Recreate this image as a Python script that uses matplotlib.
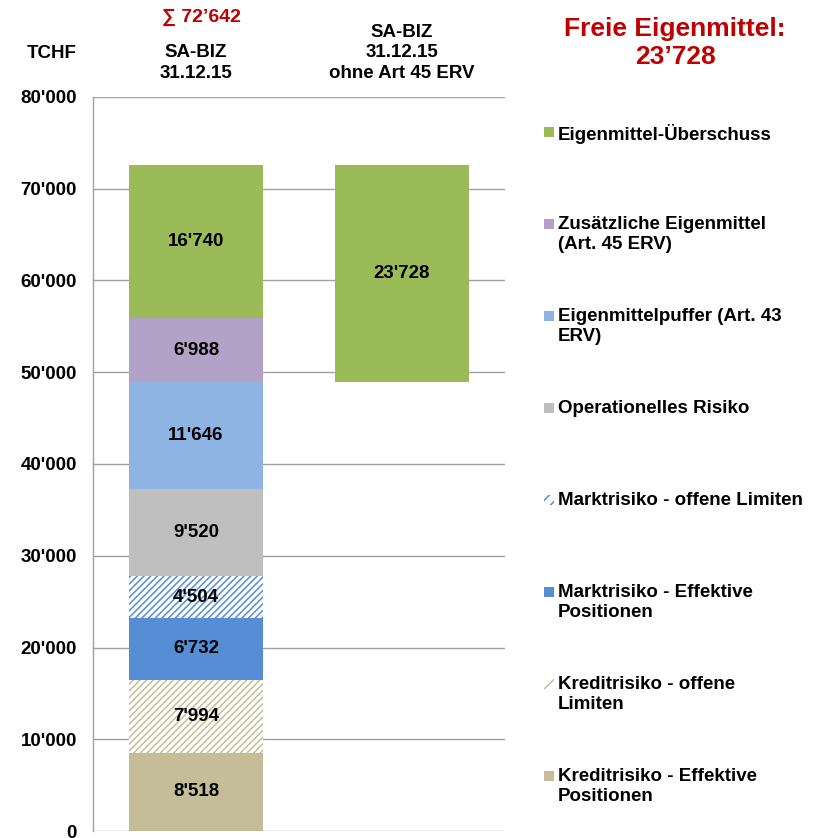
import matplotlib
matplotlib.use("Agg")
import matplotlib.pyplot as plt
from matplotlib.patches import Rectangle
from matplotlib.ticker import FuncFormatter

plt.rcParams['font.family'] = ['Liberation Sans', 'DejaVu Sans']
plt.rcParams['font.weight'] = 'bold'
plt.rcParams['hatch.linewidth'] = 1.1

# ---- data ----
columns = ["SA-BIZ\n31.12.15", "SA-BIZ\n31.12.15\nohne Art 45 ERV"]
segments = [
    "Kreditrisiko - Effektive Positionen",
    "Kreditrisiko - offene Limiten",
    "Marktrisiko - Effektive Positionen",
    "Marktrisiko - offene Limiten",
    "Operationelles Risiko",
    "Eigenmittelpuffer (Art. 43 ERV)",
    "Zusätzliche Eigenmittel (Art. 45 ERV)",
    "Eigenmittel-Überschuss",
]
legend_labels = [
    "Kreditrisiko - Effektive\nPositionen",
    "Kreditrisiko - offene\nLimiten",
    "Marktrisiko - Effektive\nPositionen",
    "Marktrisiko - offene Limiten",
    "Operationelles Risiko",
    "Eigenmittelpuffer (Art. 43\nERV)",
    "Zusätzliche Eigenmittel\n(Art. 45 ERV)",
    "Eigenmittel-Überschuss",
]
values_col1 = [8518, 7994, 6732, 4504, 9520, 11646, 6988, 16740]
col2_free = 23728
col2_base = 48914
total_label = "∑ 72’642"
title_text = "Freie Eigenmittel:\n23’728"
unit_label = "TCHF"
yticks = list(range(0, 80001, 10000))

# ---- styles ----
face = ["#C4BD97", "white", "#558ED5", "white", "#BFBFBF", "#8EB4E3", "#B3A2C7", "#9BBB59"]
hatch_col = [None, "#C4BD97", None, "#558ED5", None, None, None, None]
hatches = [None, "/////", None, "/////", None, None, None, None]
FS = 13.5

fig = plt.figure(figsize=(8.15, 8.38), dpi=100)
W, H = 815, 838
ax = fig.add_axes([93 / W, 1 - 831 / H, (505 - 93) / W, (831 - 97) / H])

bw = 0.646
bottom = 0
for i, v in enumerate(values_col1):
    kw = dict(color=face[i], edgecolor="none", linewidth=0)
    if hatches[i]:
        kw = dict(facecolor="white", edgecolor=hatch_col[i], hatch=hatches[i], linewidth=0)
    ax.bar(0, v, bw, bottom=bottom, zorder=3, **kw)
    ax.text(0, bottom + v / 2, f"{v:,}".replace(",", "'"), ha="center", va="center",
            fontsize=FS, fontweight="bold", zorder=4)
    bottom += v

ax.bar(1, col2_free, bw, bottom=col2_base, color=face[-1], edgecolor="none", zorder=3)
ax.text(1, col2_base + col2_free / 2, f"{col2_free:,}".replace(",", "'"), ha="center",
        va="center", fontsize=FS, fontweight="bold", zorder=4)

ax.set_xlim(-0.5, 1.5)
ax.set_ylim(0, 80000)
ax.set_yticks(yticks)
ax.yaxis.set_major_formatter(FuncFormatter(lambda v, p: f"{int(v):,}".replace(",", "'")))
ax.tick_params(axis="y", length=0, pad=11.5, labelsize=FS)
for lab in ax.get_yticklabels():
    lab.set_fontweight("bold")
ax.set_xticks([])
ax.grid(axis="y", color="#A0A0A0", linewidth=1.0, zorder=0)
for s in ["top", "right", "bottom"]:
    ax.spines[s].set_visible(False)
ax.spines["left"].set_color("#A0A0A0")
ax.spines["left"].set_linewidth(1.0)

# column headers (bottom-aligned just above the plot)
xform = ax.get_xaxis_transform()
for i, c in enumerate(columns):
    ax.annotate(c, xy=(i, 1.0), xycoords=xform, xytext=(0, 15), textcoords="offset pixels",
                ha="center", va="bottom", fontsize=FS, fontweight="bold", linespacing=1.28,
                annotation_clip=False)

fig.text(52 / W, 1 - 54 / H, unit_label, ha="center", va="center", fontsize=FS, fontweight="bold")
fig.text(201 / W, 1 - 17 / H, total_label, ha="center", va="center", fontsize=14,
         fontweight="bold", color="#C00000")
fig.text(675 / W, 1 - 43 / H, title_text, ha="center", va="center", fontsize=19,
         fontweight="bold", color="#C00000", linespacing=1.25)

# legend (reverse order), evenly spaced first lines
for k, idx in enumerate(reversed(range(len(segments)))):
    ytop = 124 + 92 * k
    fig.text(558 / W, 1 - ytop / H, legend_labels[idx], ha="left", va="top", fontsize=FS,
             fontweight="bold", linespacing=1.25)
    if hatches[idx]:
        r = Rectangle((544 / W, 1 - (ytop + 13) / H), 10 / W, 10 / H, transform=fig.transFigure,
                      facecolor="white", edgecolor=hatch_col[idx], hatch="///", linewidth=0)
    else:
        r = Rectangle((544 / W, 1 - (ytop + 13) / H), 10 / W, 10 / H, transform=fig.transFigure,
                      facecolor=face[idx], edgecolor="none")
    fig.add_artist(r)

fig.savefig("out.png", dpi=100)
